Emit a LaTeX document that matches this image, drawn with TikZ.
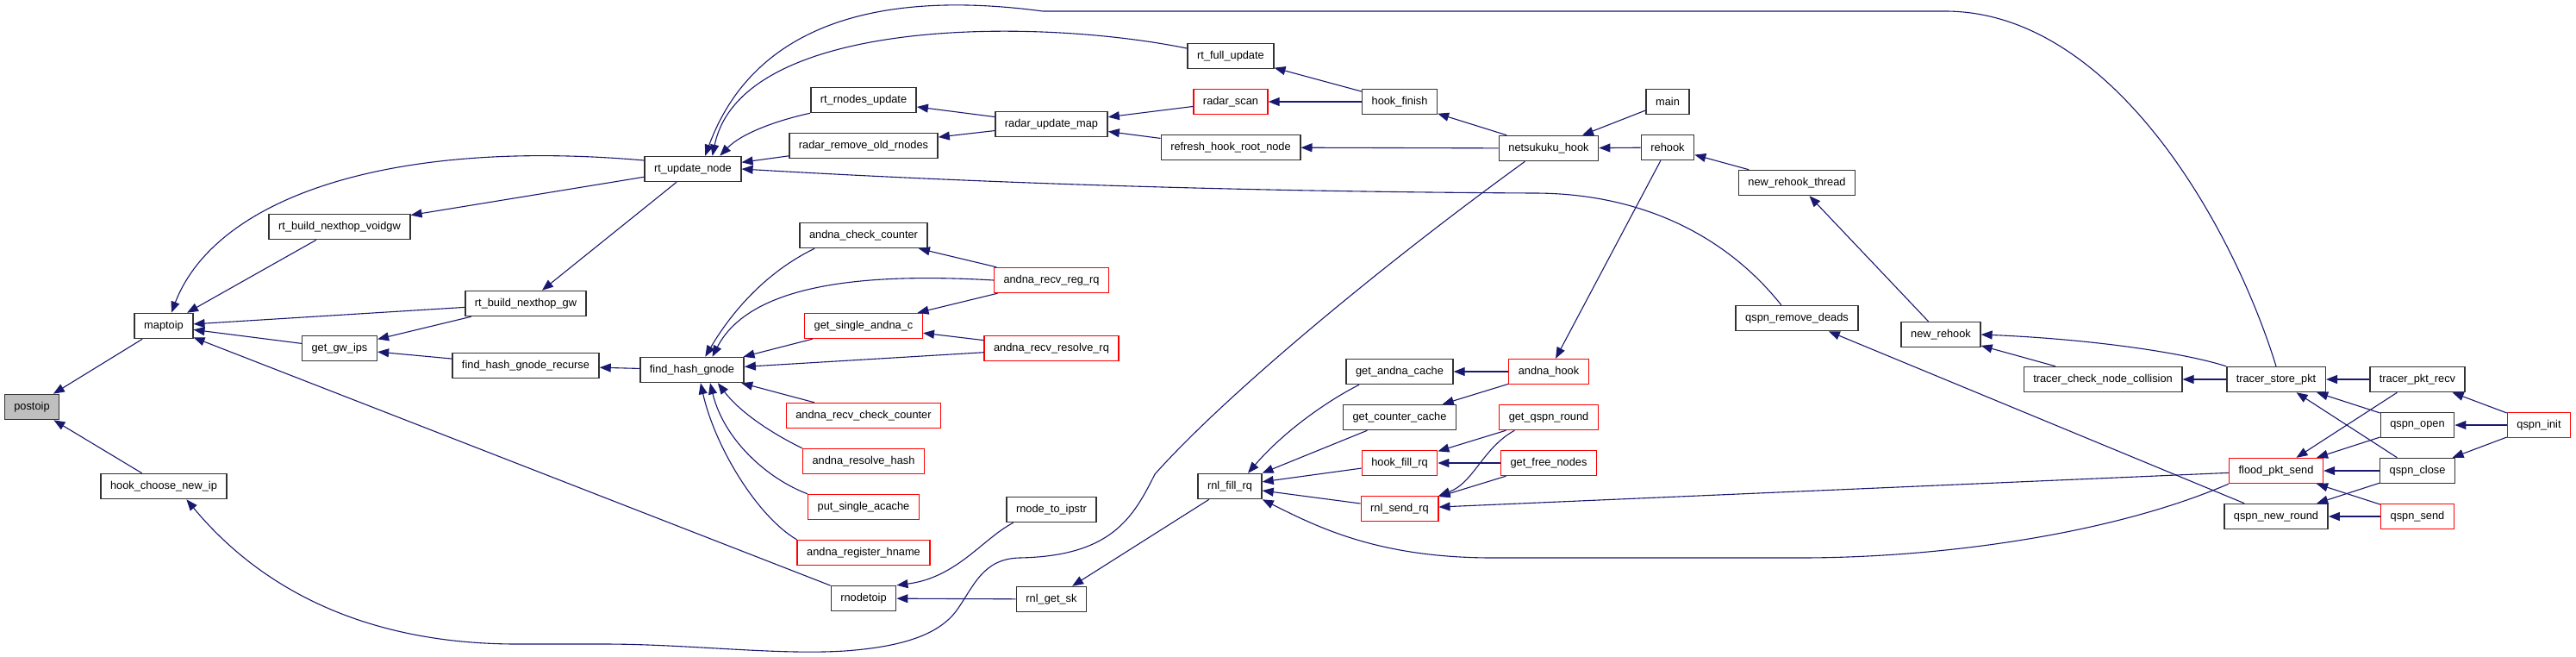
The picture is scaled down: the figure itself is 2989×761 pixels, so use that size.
\documentclass[tikz,border=0pt]{standalone}
\usepackage{fontspec}
\setmainfont{Liberation Sans}
\usepackage{tikz}
\usetikzlibrary{shapes,arrows,arrows.meta,positioning}
\definecolor{callblue}{RGB}{25,25,112}
\definecolor{boxred}{RGB}{255,0,0}
\definecolor{boxgray}{RGB}{191,191,191}

\begin{document}
\begin{tikzpicture}[x=0.5pt, y=-0.5pt, node distance=26.5pt, auto,
    fn/.style={draw=black!80, line width=0.75pt, rectangle, fill=white, font=\fontsize{6.4}{7.7}\selectfont, inner xsep=5.5pt, inner ysep=0pt, minimum height=14.5pt},
    fnred/.style={fn, draw=boxred, line width=0.7pt},
    fnself/.style={fn, fill=boxgray},
    call/.style={draw=callblue, line width=0.55pt, -{Triangle[length=6.5pt, width=5pt]}}]
    \useasboundingbox (0,0) rectangle (2989,761);

    \node[fnself] (postoip) at (37,472) {postoip};
    \node[fn] (maptoip) at (190,378) {maptoip};
    \node[fn] (hookchoose) at (190,564) {hook\_choose\_new\_ip};
    \node[fn] (voidgw) at (394,263) {rt\_build\_nexthop\_voidgw};
    \node[fn] (getgwips) at (394,404) {get\_gw\_ips};
    \node[fn] (nexthopgw) at (610,352) {rt\_build\_nexthop\_gw};
    \node[fn] (fhgrecurse) at (610,424) {find\_hash\_gnode\_recurse};
    \node[fn] (rtupdate) at (804,196) {rt\_update\_node};
    \node[fn] (fhg) at (803,429) {find\_hash\_gnode};
    \node[fn] (rnodesupd) at (1002,116) {rt\_rnodes\_update};
    \node[fn, below of=rnodesupd] (radarremove) {radar\_remove\_old\_rnodes};
    \node[fn] (checkcounter) at (1002,273) {andna\_check\_counter};
    \node[fnred] (singleandna) at (1002,378) {get\_single\_andna\_c};
    \node[fnred] (recvcheck) at (1002,482) {andna\_recv\_check\_counter};
    \node[fnred] (resolvehash) at (1002,535) {andna\_resolve\_hash};
    \node[fnred, below of=resolvehash] (putacache) {put\_single\_acache};
    \node[fnred, below of=putacache] (registerhname) {andna\_register\_hname};
    \node[fn, below of=registerhname] (rnodetoip) {rnodetoip};
    \node[fn] (radarmap) at (1220,144) {radar\_update\_map};
    \node[fnred] (recvreg) at (1220,325) {andna\_recv\_reg\_rq};
    \node[fnred] (recvresolve) at (1220,404) {andna\_recv\_resolve\_rq};
    \node[fn] (rnodeipstr) at (1220,591) {rnode\_to\_ipstr};
    \node[fn] (rnlgetsk) at (1220,695) {rnl\_get\_sk};
    \node[fn] (fullupdate) at (1428,65) {rt\_full\_update};
    \node[fnred, below of=fullupdate] (radarscan) {radar\_scan};
    \node[fn, below of=radarscan] (refreshroot) {refresh\_hook\_root\_node};
    \node[fn] (rnlfill) at (1427,564) {rnl\_fill\_rq};
    \node[fn] (hookfinish) at (1624,118) {hook\_finish};
    \node[fn] (getandna) at (1624,431) {get\_andna\_cache};
    \node[fn, below of=getandna] (getcounter) {get\_counter\_cache};
    \node[fnred, below of=getcounter] (hookfill) {hook\_fill\_rq};
    \node[fnred, below of=hookfill] (rnlsend) {rnl\_send\_rq};
    \node[fn] (nkhook) at (1797,172) {netsukuku\_hook};
    \node[fnred] (andnahook) at (1797,431) {andna\_hook};
    \node[fnred, below of=andnahook] (qspnround) {get\_qspn\_round};
    \node[fnred, below of=qspnround] (freenodes) {get\_free\_nodes};
    \node[fn] (mainfn) at (1935,118) {main};
    \node[fn, below of=mainfn] (rehook) {rehook};
    \node[fn] (rehookthread) at (2085,212) {new\_rehook\_thread};
    \node[fn] (removedeads) at (2085,369) {qspn\_remove\_deads};
    \node[fn] (newrehook) at (2252,388) {new\_rehook};
    \node[fn] (collision) at (2440,440) {tracer\_check\_node\_collision};
    \node[fn] (storepkt) at (2641,440) {tracer\_store\_pkt};
    \node[fnred] (floodsend) at (2641,546) {flood\_pkt\_send};
    \node[fn, below of=floodsend] (newround) {qspn\_new\_round};
    \node[fn] (pktrecv) at (2805,440) {tracer\_pkt\_recv};
    \node[fn, below of=pktrecv] (qspnopen) {qspn\_open};
    \node[fn, below of=qspnopen] (qspnclose) {qspn\_close};
    \node[fnred, below of=qspnclose] (qspnsend) {qspn\_send};
    \node[fnred] (qspninit) at (2946,493) {qspn\_init};

    \draw[call] (maptoip) -- (postoip);
    \draw[call] (hookchoose) -- (postoip);
    \draw[call] (rtupdate.170) .. controls (450,160) and (250,230) .. (maptoip.60);
    \draw[call] (voidgw) -- (maptoip);
    \draw[call] (nexthopgw) -- (maptoip);
    \draw[call] (getgwips) -- (maptoip);
    \draw[call] (rnodetoip) -- (maptoip);
    \draw[call] (nkhook.209) .. controls (1600,310) and (1420,460) .. (1340,550)
        .. controls (1315,600) and (1290,645) .. (1183,647)
        .. controls (1140,648) and (1130,680) .. (1110,708)
        .. controls (1090,735) and (1050,750) .. (980,755)
        .. controls (900,760) and (800,747) .. (700,747)
        -- (600,747) .. controls (420,747) and (300,680) .. (hookchoose.-30);
    \draw[call] (rtupdate) -- (voidgw);
    \draw[call] (rtupdate) -- (nexthopgw);
    \draw[call] (nexthopgw) -- (getgwips);
    \draw[call] (fhgrecurse) -- (getgwips);
    \draw[call] (fhg) -- (fhgrecurse);
    \draw[call] (rnodesupd.south west) .. controls (900,140) and (860,155) .. (rtupdate.26);
    \draw[call] (radarremove) -- (rtupdate);
    \draw[call] (fullupdate.170) .. controls (1200,20) and (860,20) .. (rtupdate.34);
    \draw[call] (storepkt.north) .. controls (2590,260) and (2450,13) .. (2257,13) -- (1210,13)
        .. controls (1000,-15) and (870,40) .. (rtupdate.47);
    \draw[call] (removedeads.140) .. controls (2000,270) and (1900,224) .. (1780,224)
        .. controls (1400,222) and (1100,210) .. (rtupdate.east);
    \draw[call] (radarmap) -- (rnodesupd);
    \draw[call] (radarmap) -- (radarremove);
    \draw[call] (radarscan) -- (radarmap);
    \draw[call] (refreshroot) -- (radarmap);
    \draw[call] (hookfinish) -- (fullupdate);
    \draw[call] (hookfinish) -- (radarscan);
    \draw[call] (nkhook) -- (refreshroot);
    \draw[call] (nkhook) -- (hookfinish);
    \draw[call] (mainfn) -- (nkhook);
    \draw[call] (rehook) -- (nkhook);
    \draw[call] (rehookthread) -- (rehook);
    \draw[call] (rehook) -- (andnahook);
    \draw[call] (newrehook) -- (rehookthread);
    \draw[call] (collision) -- (newrehook);
    \draw[call] (storepkt.north west) .. controls (2530,408) and (2420,393) .. (newrehook.east);
    \draw[call] (storepkt) -- (collision);
    \draw[call] (pktrecv) -- (storepkt);
    \draw[call] (qspnopen) -- (storepkt);
    \draw[call] (qspnclose) -- (storepkt);
    \draw[call] (pktrecv) -- (floodsend);
    \draw[call] (qspnopen) -- (floodsend);
    \draw[call] (qspnclose) -- (floodsend);
    \draw[call] (qspnsend) -- (floodsend);
    \draw[call] (qspnclose) -- (newround);
    \draw[call] (qspnsend) -- (newround);
    \draw[call] (qspninit) -- (pktrecv);
    \draw[call] (qspninit) -- (qspnopen);
    \draw[call] (qspninit) -- (qspnclose);
    \draw[call] (newround) -- (removedeads);
    \draw[call] (floodsend) -- (rnlsend);
    \draw[call] (floodsend.south west) .. controls (2450,620) and (2250,647) .. (2089,647) -- (1732,647)
        .. controls (1600,647) and (1530,612) .. (rnlfill.south east);
    \draw[call] (checkcounter.195) .. controls (890,315) and (850,360) .. (fhg.45);
    \draw[call] (recvreg.west) .. controls (1000,316) and (870,330) .. (fhg.33);
    \draw[call] (singleandna) -- (fhg);
    \draw[call] (recvresolve) -- (fhg);
    \draw[call] (recvcheck) -- (fhg);
    \draw[call] (resolvehash.north west) .. controls (900,505) and (860,480) .. (fhg.-27);
    \draw[call] (putacache.north west) .. controls (890,555) and (840,510) .. (fhg.-36);
    \draw[call] (registerhname.north west) .. controls (880,600) and (830,520) .. (fhg.-57);
    \draw[call] (recvreg) -- (checkcounter);
    \draw[call] (recvreg) -- (singleandna);
    \draw[call] (recvresolve) -- (singleandna);
    \draw[call] (rnodeipstr.199) .. controls (1140,625) and (1110,670) .. (rnodetoip.north east);
    \draw[call] (rnlgetsk) -- (rnodetoip);
    \draw[call] (rnlfill) -- (rnlgetsk);
    \draw[call] (getandna.198) .. controls (1540,465) and (1490,500) .. (rnlfill.36);
    \draw[call] (getcounter) -- (rnlfill);
    \draw[call] (hookfill) -- (rnlfill);
    \draw[call] (rnlsend) -- (rnlfill);
    \draw[call] (andnahook) -- (getandna);
    \draw[call] (andnahook) -- (getcounter);
    \draw[call] (qspnround) -- (hookfill);
    \draw[call] (freenodes) -- (hookfill);
    \draw[call] (qspnround.201) .. controls (1720,520) and (1710,560) .. (rnlsend.north east);
    \draw[call] (freenodes) -- (rnlsend);
\end{tikzpicture}
\end{document}
